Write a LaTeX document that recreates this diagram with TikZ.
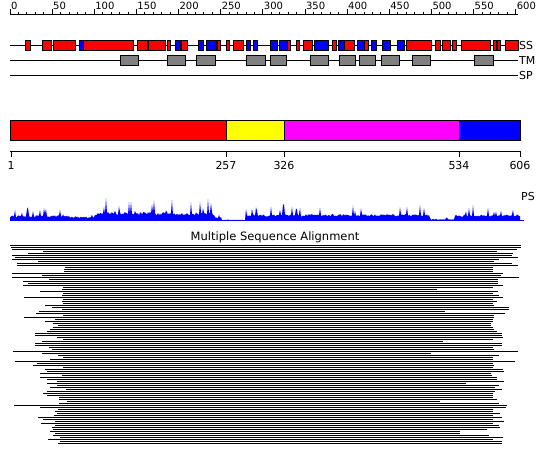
\documentclass[tikz,border=0pt]{standalone}
\usepackage{fontspec}
\setmainfont{DejaVu Sans}
\definecolor{pmag}{RGB}{255,0,255}
\definecolor{pyel}{RGB}{255,255,0}
\definecolor{pred}{RGB}{255,0,0}
\definecolor{pblue}{RGB}{0,0,255}
\definecolor{pgray}{RGB}{128,128,128}
\begin{document}
\begin{tikzpicture}[x=1pt,y=-1pt,
  thinline/.style={draw=black,line width=1pt},
  boxred/.style={draw=black,fill=pred,line width=1pt},
  boxblue/.style={draw=black,fill=pblue,line width=1pt},
  boxgray/.style={draw=black,fill=pgray,line width=1pt},
  rulerlab/.style={inner sep=0pt,anchor=base west,font=\fontsize{10}{11}\selectfont},
  tracklab/.style={inner sep=0pt,anchor=west,font=\fontsize{11}{12}\selectfont},
  axislab/.style={inner sep=0pt,anchor=base,font=\fontsize{11}{12}\selectfont},
  msaline/.style={draw=black,line width=1pt},
  declare function={psenv(\t)=(\t<70)*6.5+and(\t>=70,\t<95)*5+and(\t>=95,\t<215)*10.5+and(\t>=215,\t<222)*4+and(\t>=222,\t<246)*0.8+and(\t>=246,\t<430)*8+and(\t>=430,\t<455)*1.5+(\t>=455)*7.5;}]
\useasboundingbox (0,0) rectangle (550,465);
\fill[white] (0,0) rectangle (550,465);

% ruler
\draw[thinline] (10,14.5) -- (518,14.5);
\foreach \i in {0,...,60}{
  \pgfmathsetmacro\xx{10+\i*8.43}
  \pgfmathtruncatemacro\m{mod(\i,5)}
  \ifnum\m=0
    \draw[thinline] (\xx,9.5) -- (\xx,14.5);
    \pgfmathtruncatemacro\lab{\i*10}
    \node[rulerlab] (r\i) at (\xx+0.8,9.9) {\lab};
  \else
    \draw[thinline] (\xx,12) -- (\xx,14.5);
  \fi
}

% tracks
\draw[thinline] (10,45.5) -- (518,45.5);
\draw[thinline] (10,60.5) -- (518,60.5);
\draw[thinline] (10,75.5) -- (518,75.5);
\node[tracklab] (ss) at (519,45.5) {SS};
\node[tracklab] (tm) at (519,60.5) {TM};
\node[tracklab] (sp) at (519,75.5) {SP};

\foreach \a/\b in {25.3/30.7, 42.3/51.7, 53.3/75.7, 83.3/133.7, 137.3/147.7, 148.3/165.7, 167.3/170.7, 181.7/187.7, 217.3/220.7, 226.3/229.7, 233.3/243.7, 287.3/290.7, 296.3/299.7, 303.3/312.3, 332/336, 344/354, 364/368.3, 406.7/431.7, 435.7/440.7, 442.3/450.7, 452.3/456.3, 461.3/490.3, 493.3/500, 505.3/518.3}
  \draw[boxred] (\a,40.5) rectangle (\b,50.5);
\foreach \a/\b in {79.3/83.3, 175.3/180, 198.3/203.7, 206.7/216, 246.3/250.3, 253.3/257.7, 270.3/277.3, 279.3/287.3, 314.3/328.7, 338.3/344, 357.3/364, 371.3/376.7, 382.3/390.7, 397.3/404.7}
  \draw[boxblue] (\a,40.5) rectangle (\b,50.5);
\fill[black] (496,41) rectangle (497.5,50);
\foreach \a/\b in {120.3/138.7, 167.3/185.3, 196.3/215.3, 246.3/265.3, 270.3/286.7, 310/328.7, 339.3/355.3, 359.3/375.7, 381.3/399.7, 412.3/430.7, 474.3/493.3}
  \draw[boxgray] (\a,55.5) rectangle (\b,65.5);

% domain bar
\draw[thinline,fill=pred] (10,120.5) rectangle (226,141);
\draw[thinline,fill=pyel] (226,120.5) rectangle (284,141);
\draw[thinline,fill=pmag] (284,120.5) rectangle (459,141);
\draw[thinline,fill=pblue] (459,120.5) rectangle (520,141);
\draw[thinline] (10,151.5) -- (520,151.5);
\foreach \xx/\lab in {11/1, 226/257, 284/326, 459/534, 520/606}{
  \draw[thinline] (\xx,151.5) -- (\xx,157);
  \node[axislab] (a\lab) at (\xx,170) {\lab};
}

% PS profile
\pgfmathsetseed{4242}
\fill[pblue] (10,220.5) \foreach \t in {10,...,520}{ -- (\t,{220.5-psenv(\t)*(0.5+0.3*rnd)-(rnd>0.84)*psenv(\t)*1.4*rnd}) } -- (520,220.5) -- cycle;
\draw[pblue,line width=1pt] (10,220.5) -- (524,220.5);
\node[tracklab] (ps) at (521,196) {PS};

\node[inner sep=0pt,font=\fontsize{11.5}{13}\selectfont] (msat) at (275,237) {Multiple Sequence Alignment};

% MSA
\foreach \n/\a/\b in {1/10/521, 2/11/521, 3/12/517, 4/43/497, 5/28/513, 6/12/512, 7/15/518, 8/12/499, 9/38/494, 10/17/512, 11/17/518, 12/65/493, 13/64/493, 14/64/493, 15/12/503, 16/42/501, 17/12/519, 18/49/498, 19/23/498, 20/28/498, 21/23/503, 22/63/493, 23/62/437, 24/40/498, 25/63/493, 26/62/499, 27/24/503, 28/63/493, 29/62/497, 30/63/493, 31/45/494, 32/52/509, 33/62/509, 34/39/445, 35/36/505, 36/63/494, 37/24/494, 38/55/493, 39/45/493, 40/53/491, 41/58/491, 42/53/493, 43/50/494, 44/47/497, 45/35/502, 46/35/502, 47/57/503, 48/63/493, 49/42/443, 50/35/502, 51/35/502, 52/49/493, 53/52/494, 54/13/518, 55/42/431, 56/58/499, 57/63/493, 58/50/493, 59/15/515, 60/37/493, 61/33/494, 62/63/493, 63/45/503, 64/47/504, 65/40/491, 66/62/492, 67/40/497, 68/47/497, 69/57/504, 70/47/466, 71/57/499, 72/50/495, 73/66/502, 74/47/495, 75/43/493, 76/47/493, 77/59/493, 78/59/497, 79/67/440, 80/59/499, 81/14/507, 82/40/506, 83/58/493, 84/55/493, 85/57/500, 86/54/493, 87/38/502, 88/43/493, 89/55/504, 90/41/493, 91/55/499, 92/52/500, 93/53/487, 94/50/460, 95/55/460, 96/53/489, 97/60/503, 98/48/493, 99/60/502, 100/58/502}
  \draw[msaline] (\a,{243.5+2*\n}) -- (\b,{243.5+2*\n});
\end{tikzpicture}
\end{document}
